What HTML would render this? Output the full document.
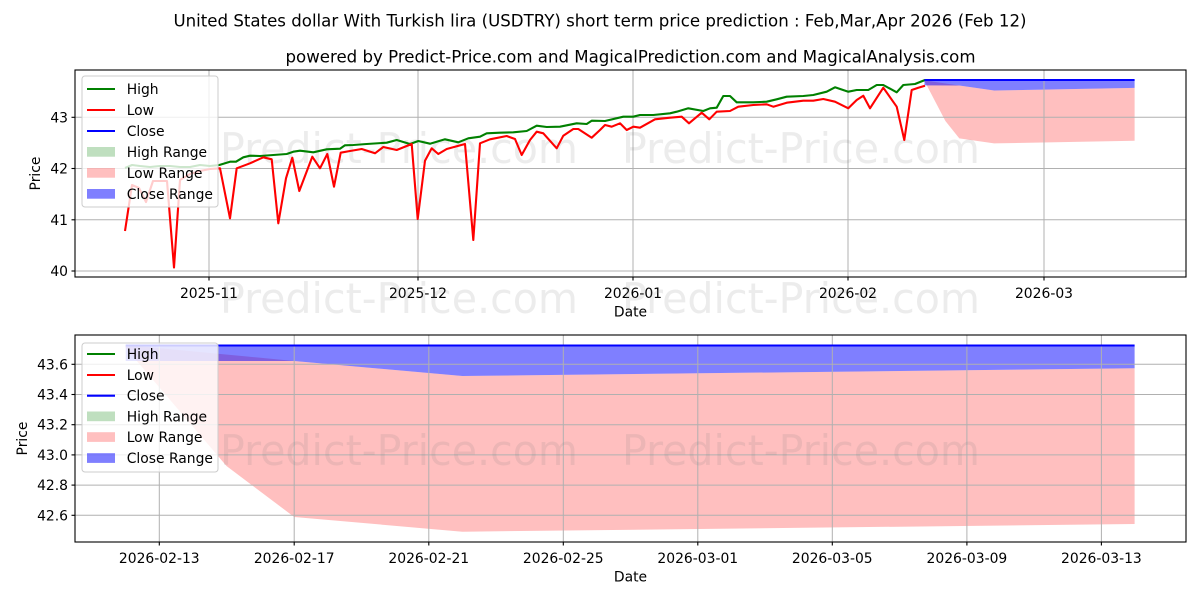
<!DOCTYPE html>
<html><head><meta charset="utf-8"><style>
html,body{margin:0;padding:0;background:#fff;}
svg{display:block;font-family:"DejaVu Sans","Liberation Sans",sans-serif;}
</style></head><body>
<svg width="1200" height="600" viewBox="0 0 1200 600" xmlns="http://www.w3.org/2000/svg">
<rect width="1200" height="600" fill="#fff"/>
<text x="600" y="26.7" font-size="16.67" text-anchor="middle" textLength="853" lengthAdjust="spacingAndGlyphs" fill="#000">United States dollar With Turkish lira (USDTRY) short term price prediction : Feb,Mar,Apr 2026 (Feb 12)</text>
<text x="630.5" y="62.7" font-size="16.67" text-anchor="middle" textLength="690" lengthAdjust="spacingAndGlyphs" fill="#000">powered by Predict-Price.com and MagicalPrediction.com and MagicalAnalysis.com</text>

<!-- ===== TOP CHART ===== -->
<g>
<polygon points="924.5,80.4 959.3,85.5 994.1,90.5 1134.6,87.9 1134.6,140.8 994.1,143.4 959.3,138.4 945.4,121 924.5,81" fill="#ff0000" fill-opacity="0.25"/>
<polygon points="924.5,80 1134.6,80 1134.6,87.9 994.1,90.5 959.3,85.5 924.5,85.4" fill="#0000ff" fill-opacity="0.5"/>
<g stroke="#b0b0b0" stroke-width="1">
<line x1="209" y1="70" x2="209" y2="277"/>
<line x1="418" y1="70" x2="418" y2="277"/>
<line x1="633" y1="70" x2="633" y2="277"/>
<line x1="848" y1="70" x2="848" y2="277"/>
<line x1="1044" y1="70" x2="1044" y2="277"/>
<line x1="75" y1="117.3" x2="1186" y2="117.3"/>
<line x1="75" y1="168.5" x2="1186" y2="168.5"/>
<line x1="75" y1="219.8" x2="1186" y2="219.8"/>
<line x1="75" y1="271" x2="1186" y2="271"/>
</g>
<g fill="#808080" fill-opacity="0.15" font-size="42">
<text x="220" y="163" textLength="358" lengthAdjust="spacingAndGlyphs">Predict-Price.com</text>
<text x="622" y="163" textLength="358" lengthAdjust="spacingAndGlyphs">Predict-Price.com</text>
</g>
<polyline fill="none" stroke="#008000" stroke-width="2.1" stroke-linejoin="round" points="125,168 132,165 140,166 150,167 160,166 170,166 180,167 190,167 200,165 210,166 219.3,165 230,161.7 236,161.7 243.3,157.3 250,155.7 260,156 273.3,155 286.7,154 293.3,151.7 300,150.7 313.3,152.3 326.7,149.3 340,148.7 345,145.3 353.3,145 366.7,144 386.7,142.7 396.7,140 410,144 418.3,141 430,143.7 445,139.3 458.3,142.3 468.3,138.3 480,136.7 486.7,133.3 500,132.7 513.3,132.3 526.7,131 536.7,125.7 546.7,127 560,126.7 576.7,123.3 586.7,124 591.7,120.7 605,121 623.3,116.7 633.3,116.7 640,115 653.3,115 670,113.3 676.7,111.7 688.3,108.3 703.3,111 710,108.3 716.7,107.7 723.3,96 730,96 736.7,102.3 753.3,102.3 766.7,101.7 776.7,99.3 786.7,96.7 803.3,96 813.3,95 826.7,91.7 835,87.3 848.3,91.7 856.7,90 868.3,90 876.7,85 883.3,85 896.7,92.3 903.3,85 915,84 925,80"/>
<polyline fill="none" stroke="#ff0000" stroke-width="2.1" stroke-linejoin="round" points="125,231 132,185 139,188 146,202 153,181 167,181 174,267.5 180,180 190,174 200,171 210,169 220,168.3 230,218.3 236.7,168.3 250,163.3 263.3,157.3 271.7,159.3 278.3,223.3 286,178.3 292.3,157.7 299.3,191 312.3,156.7 320,168.3 327.3,154 334,186.7 340.7,152.7 350,151 361.7,149 375,153.3 383.3,147 396.7,150 411.7,144 417.7,219 425,160.7 431.7,148.3 438.3,154 446.7,149 465,144 473.3,240 480,143.3 490,139.3 506.7,136 515,139 521.7,155 530,140 536.7,131.7 543.3,133.3 556.7,148.3 563.3,135.7 573.3,129 578.3,129 591.7,137.7 600,130 605,125 611.7,126.7 620,123.3 626.7,130 633.3,126.7 640,127.7 655,119.3 670,117.7 681.7,116.7 689,123.3 701.7,112.7 709.3,119.3 716.7,111.7 730,111 738.3,106.7 753.3,105 766.7,104.3 773.3,106.7 786.7,102.7 803.3,100.7 813.3,100.7 823.3,99 835,101.7 848.3,108.3 856.7,100 863.3,95.7 870,108.3 883.3,87.7 896.7,106.7 904.3,140 911.7,90 918.3,87.7 925,85.7"/>
<line x1="924.5" y1="80" x2="1134.6" y2="80" stroke="#0000ff" stroke-width="2.1"/>
<rect x="75" y="70" width="1111" height="207" fill="none" stroke="#000" stroke-width="1.1"/>
<g stroke="#000" stroke-width="1.1">
<line x1="209" y1="277" x2="209" y2="280.5"/>
<line x1="418" y1="277" x2="418" y2="280.5"/>
<line x1="633" y1="277" x2="633" y2="280.5"/>
<line x1="848" y1="277" x2="848" y2="280.5"/>
<line x1="1044" y1="277" x2="1044" y2="280.5"/>
<line x1="71.5" y1="117.3" x2="75" y2="117.3"/>
<line x1="71.5" y1="168.5" x2="75" y2="168.5"/>
<line x1="71.5" y1="219.8" x2="75" y2="219.8"/>
<line x1="71.5" y1="271" x2="75" y2="271"/>
</g>
<g font-size="13.9" fill="#000">
<g text-anchor="middle">
<text x="209" y="298">2025-11</text>
<text x="418" y="298">2025-12</text>
<text x="633" y="298">2026-01</text>
<text x="848" y="298">2026-02</text>
<text x="1044" y="298">2026-03</text>
<text x="630.5" y="316.7">Date</text>
</g>
<g text-anchor="end">
<text x="68" y="122.3">43</text>
<text x="68" y="173.5">42</text>
<text x="68" y="224.8">41</text>
<text x="68" y="276">40</text>
</g>
<text x="0" y="0" text-anchor="middle" transform="translate(40,173.5) rotate(-90)">Price</text>
</g>
<rect x="82" y="76" width="136" height="131" rx="3" fill="#fff" fill-opacity="0.8" stroke="#cccccc" stroke-width="1"/>
<g stroke-width="2.1">
<line x1="87" y1="89" x2="115" y2="89" stroke="#008000"/>
<line x1="87" y1="110" x2="115" y2="110" stroke="#ff0000"/>
<line x1="87" y1="131" x2="115" y2="131" stroke="#0000ff"/>
</g>
<rect x="87" y="147" width="28" height="9.7" fill="#008000" fill-opacity="0.25"/>
<rect x="87" y="168" width="28" height="9.7" fill="#ff0000" fill-opacity="0.25"/>
<rect x="87" y="189" width="28" height="9.7" fill="#0000ff" fill-opacity="0.5"/>
<g font-size="13.9" fill="#000">
<text x="126.7" y="94">High</text>
<text x="126.7" y="115">Low</text>
<text x="126.7" y="136">Close</text>
<text x="126.7" y="157">High Range</text>
<text x="126.7" y="178">Low Range</text>
<text x="126.7" y="199">Close Range</text>
</g>
</g>

<g fill="#808080" fill-opacity="0.15" font-size="42">
<text x="220" y="313" textLength="358" lengthAdjust="spacingAndGlyphs">Predict-Price.com</text>
<text x="622" y="313" textLength="358" lengthAdjust="spacingAndGlyphs">Predict-Price.com</text>
</g>

<!-- ===== BOTTOM CHART ===== -->
<g>
<polygon points="125.7,345 294.2,361 462.4,376 1134.6,368.3 1134.6,524 462.4,531.7 294.2,517 226.5,466 125.7,348" fill="#ff0000" fill-opacity="0.25"/>
<polygon points="125.7,345.5 1134.6,345.5 1134.6,368.3 462.4,376 294.2,361 125.7,361" fill="#0000ff" fill-opacity="0.5"/>
<g stroke="#b0b0b0" stroke-width="1">
<line x1="159.3" y1="335" x2="159.3" y2="542"/>
<line x1="294.2" y1="335" x2="294.2" y2="542"/>
<line x1="428.8" y1="335" x2="428.8" y2="542"/>
<line x1="563.3" y1="335" x2="563.3" y2="542"/>
<line x1="697.8" y1="335" x2="697.8" y2="542"/>
<line x1="832.3" y1="335" x2="832.3" y2="542"/>
<line x1="966.9" y1="335" x2="966.9" y2="542"/>
<line x1="1101.4" y1="335" x2="1101.4" y2="542"/>
<line x1="75" y1="364.3" x2="1186" y2="364.3"/>
<line x1="75" y1="394.5" x2="1186" y2="394.5"/>
<line x1="75" y1="424.7" x2="1186" y2="424.7"/>
<line x1="75" y1="454.9" x2="1186" y2="454.9"/>
<line x1="75" y1="485.1" x2="1186" y2="485.1"/>
<line x1="75" y1="515.3" x2="1186" y2="515.3"/>
</g>
<g fill="#808080" fill-opacity="0.15" font-size="42">
<text x="220" y="465" textLength="358" lengthAdjust="spacingAndGlyphs">Predict-Price.com</text>
<text x="622" y="465" textLength="358" lengthAdjust="spacingAndGlyphs">Predict-Price.com</text>
</g>
<line x1="125.7" y1="345.5" x2="1134.6" y2="345.5" stroke="#0000ff" stroke-width="2.1"/>
<rect x="75" y="335" width="1111" height="207" fill="none" stroke="#000" stroke-width="1.1"/>
<g stroke="#000" stroke-width="1.1">
<line x1="159.3" y1="542" x2="159.3" y2="545.5"/>
<line x1="294.2" y1="542" x2="294.2" y2="545.5"/>
<line x1="428.8" y1="542" x2="428.8" y2="545.5"/>
<line x1="563.3" y1="542" x2="563.3" y2="545.5"/>
<line x1="697.8" y1="542" x2="697.8" y2="545.5"/>
<line x1="832.3" y1="542" x2="832.3" y2="545.5"/>
<line x1="966.9" y1="542" x2="966.9" y2="545.5"/>
<line x1="1101.4" y1="542" x2="1101.4" y2="545.5"/>
<line x1="71.5" y1="364.3" x2="75" y2="364.3"/>
<line x1="71.5" y1="394.5" x2="75" y2="394.5"/>
<line x1="71.5" y1="424.7" x2="75" y2="424.7"/>
<line x1="71.5" y1="454.9" x2="75" y2="454.9"/>
<line x1="71.5" y1="485.1" x2="75" y2="485.1"/>
<line x1="71.5" y1="515.3" x2="75" y2="515.3"/>
</g>
<g font-size="13.9" fill="#000">
<g text-anchor="middle">
<text x="159.3" y="563">2026-02-13</text>
<text x="294.2" y="563">2026-02-17</text>
<text x="428.8" y="563">2026-02-21</text>
<text x="563.3" y="563">2026-02-25</text>
<text x="697.8" y="563">2026-03-01</text>
<text x="832.3" y="563">2026-03-05</text>
<text x="966.9" y="563">2026-03-09</text>
<text x="1101.4" y="563">2026-03-13</text>
<text x="630.5" y="581.5">Date</text>
</g>
<g text-anchor="end">
<text x="68" y="369.3">43.6</text>
<text x="68" y="399.5">43.4</text>
<text x="68" y="429.7">43.2</text>
<text x="68" y="459.9">43.0</text>
<text x="68" y="490.1">42.8</text>
<text x="68" y="520.3">42.6</text>
</g>
<text x="0" y="0" text-anchor="middle" transform="translate(27,438.5) rotate(-90)">Price</text>
</g>
<rect x="82" y="343" width="136" height="129" rx="3" fill="#fff" fill-opacity="0.8" stroke="#cccccc" stroke-width="1"/>
<g stroke-width="2.1">
<line x1="87" y1="354" x2="115" y2="354" stroke="#008000"/>
<line x1="87" y1="375" x2="115" y2="375" stroke="#ff0000"/>
<line x1="87" y1="395.7" x2="115" y2="395.7" stroke="#0000ff"/>
</g>
<rect x="87" y="411.5" width="28" height="9.7" fill="#008000" fill-opacity="0.25"/>
<rect x="87" y="432.2" width="28" height="9.7" fill="#ff0000" fill-opacity="0.25"/>
<rect x="87" y="453.2" width="28" height="9.7" fill="#0000ff" fill-opacity="0.5"/>
<g font-size="13.9" fill="#000">
<text x="126.7" y="359">High</text>
<text x="126.7" y="380">Low</text>
<text x="126.7" y="400.7">Close</text>
<text x="126.7" y="421.3">High Range</text>
<text x="126.7" y="442">Low Range</text>
<text x="126.7" y="463">Close Range</text>
</g>
</svg>
</body></html>
